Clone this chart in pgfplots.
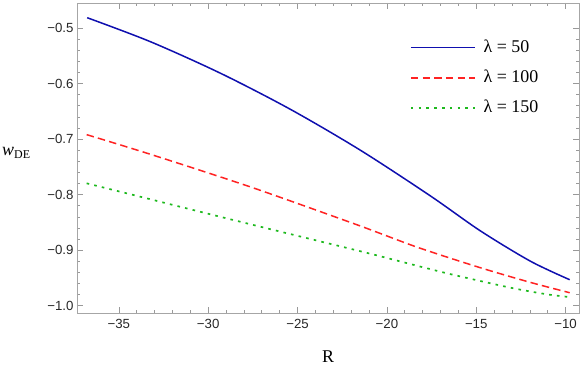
\documentclass[border=0pt]{standalone}
\usepackage{fontspec}
\setmainfont{Liberation Serif}
\newfontfamily\arial{Liberation Sans}
\usepackage{pgfplots}
\pgfplotsset{compat=1.18}
\definecolor{cblue}{RGB}{15,15,175}
\definecolor{cred}{RGB}{255,35,35}
\definecolor{cgreen}{RGB}{30,185,30}
\begin{document}
\begin{tikzpicture}
\begin{axis}[name=ax, scale only axis, width=502bp, height=310bp,
 xmin=-37.34, xmax=-9.25, ymin=-1.0131, ymax=-0.455,
 xtick={-35,-30,-25,-20,-15,-10}, xticklabels={−35,−30,−25,−20,−15,−10},
 ytick={-1,-0.9,-0.8,-0.7,-0.6,-0.5}, yticklabels={−1.0,−0.9,−0.8,−0.7,−0.6,−0.5},
 minor x tick num=4, minor y tick num=4,
 tick align=inside, major tick length=6bp, minor tick length=3.5bp,
 axis line style={black!35, line width=0.8bp},
 every tick/.style={black!40, line width=0.6bp},
 tick label style={font=\arial\fontsize{13.3}{15}\selectfont, text=black!85},
 xticklabel style={yshift=-3bp},
 xlabel={R}, ylabel={\textit{w}\raisebox{-0.35ex}{\fontsize{12}{12}\selectfont DE}},
 every axis x label/.style={at={(rel axis cs:0.5,0)}, anchor=base, yshift=-49bp, inner sep=0pt, font=\fontsize{18}{20}\selectfont},
 every axis y label/.style={at={(rel axis cs:0,0.5)}, anchor=base west, xshift=-75bp, yshift=2bp, inner sep=0pt, font=\fontsize{18}{20}\selectfont},
 legend style={draw=none, fill=none, inner sep=0pt, outer sep=0pt, at={(rel axis cs:0.6633,1)}, anchor=north west, yshift=-36.2bp,
   font=\fontsize{18}{20}\selectfont, row sep=13.3bp, column sep=8bp,
   nodes={inner sep=0pt, text height=13bp, text depth=4bp}},
 legend cell align=left,
 legend image code/.code={\draw[#1] (0bp,0bp) -- (64bp,0bp);},
]
\addplot[cblue, line width=1.5bp, smooth] coordinates {
(-36.77,-0.4815) (-33.23,-0.5247) (-29.31,-0.5815) (-25.40,-0.6464) (-21.48,-0.7201)
(-17.57,-0.8022) (-14.77,-0.8652) (-11.97,-0.9198) (-9.77,-0.9532)};
\addlegendentry{λ = 50}
\addplot[cred, line width=1.5bp, dash pattern=on 7.5bp off 4.2bp, smooth] coordinates {
(-36.8,-0.692) (-33.23,-0.7274) (-27.63,-0.7862) (-22.04,-0.8500) (-20.36,-0.8700) (-18.12,-0.8967) (-14.77,-0.9316) (-11.97,-0.9580) (-9.77,-0.9766)};
\addlegendentry{λ = 100}
\addplot[cgreen, line width=1.7bp, dash pattern=on 2.6bp off 5.2bp, smooth] coordinates {
(-36.8,-0.7796) (-33.23,-0.8084) (-27.63,-0.8534) (-22.04,-0.8975) (-20.18,-0.9125) (-18.5,-0.9265) (-16.63,-0.9417) (-14.77,-0.9555) (-12.91,-0.9687) (-11.04,-0.9795) (-9.9,-0.9840)};
\addlegendentry{λ = 150}
\end{axis}
\pgfresetboundingbox
\useasboundingbox ([xshift=-77bp,yshift=-54bp]ax.south west) rectangle ([xshift=2bp,yshift=3bp]ax.north east);
\end{tikzpicture}
\end{document}
